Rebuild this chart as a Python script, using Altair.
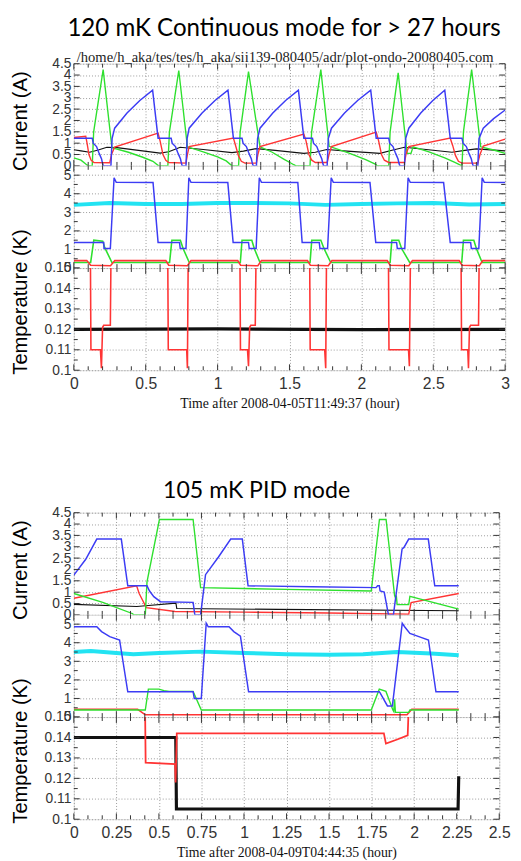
import altair as alt
import pandas as pd

TITLE1 = "120 mK Continuous mode for > 27 hours"
TITLE2 = "105 mK PID mode"
PATH1 = "/home/h_aka/tes/tes/h_aka/sii139-080405/adr/plot-ondo-20080405.com"
XTITLE1 = "Time after 2008-04-05T11:49:37 (hour)"
XTITLE2 = "Time after 2008-04-09T04:44:35 (hour)"

F1_XTICKS = [0, 0.5, 1, 1.5, 2, 2.5, 3]
F2_XTICKS = [0, 0.25, 0.5, 0.75, 1, 1.25, 1.5, 1.75, 2, 2.25, 2.5]
CUR_TICKS = [0, 0.5, 1, 1.5, 2, 2.5, 3, 3.5, 4, 4.5]
K_TICKS = [0, 1, 2, 3, 4, 5]
MK_TICKS = [0.1, 0.11, 0.12, 0.13, 0.14, 0.15]
# minor (inward) tick positions drawn along the frames
F1_XMINOR = [0.1, 0.2, 0.3, 0.4, 0.6, 0.7, 0.8, 0.9, 1.1, 1.2, 1.3, 1.4, 1.6, 1.7, 1.8, 1.9,
             2.1, 2.2, 2.3, 2.4, 2.6, 2.7, 2.8, 2.9]
F2_XMINOR = [0.083, 0.167, 0.333, 0.417, 0.583, 0.667, 0.833, 0.917, 1.083, 1.167, 1.333, 1.417,
             1.583, 1.667, 1.833, 1.917, 2.083, 2.167, 2.333, 2.417]
K_MINOR = [0.5, 1.5, 2.5, 3.5, 4.5]
MK_MINOR = [0.105, 0.115, 0.125, 0.135, 0.145]

BLUE = "#3c3cf4"
GREEN = "#2ee02e"
RED = "#ff3434"
CYAN = "#22e3f2"
BLACK = "#111111"

# ---------------- Figure 1 : current (A) ----------------
F1_CUR_BLUE = [
    (0, 1.22), (0.128, 1.22), (0.135, 1.0), (0.158, 0.85), (0.173, 0.6), (0.183, 0.45), (0.193, 0.3), (0.2, 0.1), (0.205, 0), (0.258, 0), (0.266, 1.2), (0.284, 1.66), (0.37, 2.33), (0.459, 2.88), (0.548, 3.33), (0.586, 1.22),
    (0.677, 1.22), (0.684, 1.0), (0.707, 0.85), (0.722, 0.6), (0.732, 0.45), (0.742, 0.3), (0.749, 0.1), (0.754, 0), (0.78, 0), (0.788, 1.2), (0.802, 1.66), (0.892, 2.33), (0.982, 2.88), (1.072, 3.33), (1.11, 1.22),
    (1.17, 1.22), (1.177, 1.0), (1.2, 0.85), (1.215, 0.6), (1.225, 0.45), (1.235, 0.3), (1.242, 0.1), (1.248, 0), (1.27, 0), (1.278, 1.2), (1.295, 1.66), (1.384, 2.33), (1.473, 2.88), (1.562, 3.33), (1.6, 1.22),
    (1.66, 1.22), (1.667, 1.0), (1.69, 0.85), (1.705, 0.6), (1.715, 0.45), (1.725, 0.3), (1.732, 0.1), (1.738, 0), (1.762, 0), (1.77, 1.2), (1.792, 1.66), (1.883, 2.33), (1.974, 2.88), (2.065, 3.33), (2.103, 1.22),
    (2.19, 1.22), (2.197, 1.0), (2.22, 0.85), (2.235, 0.6), (2.245, 0.45), (2.255, 0.3), (2.262, 0.1), (2.268, 0), (2.3, 0), (2.308, 1.2), (2.33, 1.66), (2.413, 2.33), (2.497, 2.88), (2.58, 3.33), (2.618, 1.22),
    (2.7, 1.22), (2.707, 1.0), (2.73, 0.85), (2.745, 0.6), (2.755, 0.45), (2.765, 0.3), (2.772, 0.1), (2.778, 0), (2.81, 0), (2.818, 1.2), (2.848, 1.66), (2.92, 2.08), (3.0, 2.46),
]
F1_CUR_GREEN = [
    (0, 0.35), (0.05, 0.25), (0.083, 0.08), (0.1, 0), (0.128, 0), (0.138, 1.5), (0.204, 4.24), (0.265, 0.8), (0.38, 0.6), (0.48, 0.38), (0.55, 0.2), (0.59, 0),
    (0.654, 0), (0.665, 1.5), (0.73, 4.2), (0.79, 0.84), (0.9, 0.62), (1.0, 0.4), (1.06, 0.22), (1.1, 0),
    (1.146, 0), (1.157, 1.5), (1.215, 4.15), (1.295, 0.84), (1.38, 0.6), (1.46, 0.3), (1.53, 0.05), (1.545, 0),
    (1.643, 0), (1.654, 1.5), (1.718, 4.24), (1.776, 0.86), (1.91, 0.57), (2.03, 0.28), (2.1, 0.07), (2.11, 0),
    (2.19, 0), (2.2, 1.5), (2.256, 4.1), (2.318, 0.55), (2.345, 0.55), (2.36, 0.84), (2.47, 0.62), (2.58, 0.35), (2.65, 0.15), (2.7, 0),
    (2.71, 1.5), (2.767, 4.24), (2.83, 0.84), (2.92, 0.7), (3.0, 0.55),
]
F1_CUR_RED = [
    (0, 1.25), (0.083, 1.3), (0.092, 1.0), (0.105, 0.5), (0.12, 0.25), (0.14, 0.15), (0.25, 0.14), (0.262, 0.5), (0.284, 0.83), (0.586, 1.44),
    (0.6, 1.1), (0.62, 0.5), (0.64, 0.25), (0.66, 0.15), (0.78, 0.12), (0.79, 0.5), (0.802, 0.85), (1.11, 1.22),
    (1.125, 0.9), (1.145, 0.45), (1.165, 0.2), (1.19, 0.12), (1.27, 0.12), (1.28, 0.5), (1.295, 0.85), (1.6, 1.4),
    (1.615, 1.1), (1.635, 0.5), (1.655, 0.25), (1.68, 0.15), (1.762, 0.15), (1.775, 0.5), (1.792, 0.85), (2.103, 1.49),
    (2.12, 1.1), (2.14, 0.5), (2.16, 0.25), (2.19, 0.15), (2.3, 0.15), (2.31, 0.5), (2.33, 0.85), (2.618, 1.22),
    (2.635, 0.9), (2.655, 0.45), (2.675, 0.2), (2.7, 0.12), (2.81, 0.12), (2.825, 0.5), (2.848, 0.87), (3.0, 1.18),
]
F1_CUR_BLACK = [
    (0, 0.71), (0.05, 0.66), (0.11, 0.6), (0.17, 0.7), (0.23, 0.82), (0.3, 0.8), (0.45, 0.68), (0.6, 0.56), (0.66, 0.62), (0.74, 0.82),
    (0.9, 0.72), (1.1, 0.58), (1.18, 0.65), (1.27, 0.76), (1.4, 0.68), (1.6, 0.55), (1.68, 0.6), (1.76, 0.72), (1.9, 0.65), (2.13, 0.55),
    (2.22, 0.7), (2.3, 0.82), (2.45, 0.72), (2.63, 0.6), (2.72, 0.68), (2.8, 0.75), (3.0, 0.66),
]

# ---------------- Figure 1 : temperature (K) ----------------
F1_K_BLUE = [
    (0, 1.38), (0.208, 1.38), (0.21, 1.05), (0.254, 1.05), (0.28, 4.86), (0.295, 4.62), (0.551, 4.6), (0.586, 1.38),
    (0.735, 1.38), (0.74, 1.05), (0.78, 1.05), (0.8, 4.86), (0.815, 4.62), (1.071, 4.6), (1.108, 1.38),
    (1.215, 1.38), (1.22, 1.05), (1.268, 1.05), (1.29, 4.86), (1.305, 4.62), (1.558, 4.6), (1.588, 1.38),
    (1.707, 1.38), (1.712, 1.05), (1.765, 1.05), (1.79, 4.86), (1.805, 4.62), (2.06, 4.6), (2.1, 1.38),
    (2.245, 1.38), (2.25, 1.05), (2.302, 1.05), (2.325, 4.86), (2.34, 4.62), (2.572, 4.6), (2.618, 1.38),
    (2.76, 1.38), (2.765, 1.05), (2.817, 1.05), (2.84, 4.86), (2.855, 4.62), (3.0, 4.6),
]
F1_K_GREEN = [
    (0, 0.3), (0.117, 0.3), (0.139, 1.5), (0.201, 1.45), (0.215, 1.1), (0.265, 0.3),
    (0.666, 0.3), (0.682, 1.5), (0.741, 1.5), (0.76, 1.05), (0.803, 0.3),
    (1.158, 0.3), (1.17, 1.5), (1.238, 1.5), (1.255, 1.05), (1.295, 0.3),
    (1.643, 0.3), (1.655, 1.5), (1.718, 1.5), (1.74, 1.05), (1.787, 0.3),
    (2.2, 0.3), (2.212, 1.5), (2.26, 1.5), (2.28, 1.05), (2.336, 0.3),
    (2.698, 0.3), (2.71, 1.5), (2.782, 1.5), (2.8, 1.05), (2.84, 0.3), (3.0, 0.3),
]
F1_K_RED = [
    (0, 0.4), (0.09, 0.4), (0.117, 0.15), (0.255, 0.12), (0.285, 0.4), (0.64, 0.4), (0.66, 0.15), (0.79, 0.12), (0.815, 0.4),
    (1.14, 0.4), (1.16, 0.15), (1.28, 0.12), (1.305, 0.4), (1.625, 0.4), (1.645, 0.15), (1.77, 0.12), (1.795, 0.4),
    (2.18, 0.4), (2.2, 0.15), (2.33, 0.12), (2.355, 0.4), (2.68, 0.4), (2.7, 0.15), (2.82, 0.12), (2.845, 0.4), (3.0, 0.4),
]
F1_K_CYAN = [
    (0, 3.4), (0.25, 3.5), (0.5, 3.45), (0.75, 3.45), (1.0, 3.5), (1.25, 3.5), (1.5, 3.48), (1.75, 3.4),
    (2.0, 3.45), (2.25, 3.48), (2.5, 3.5), (2.75, 3.42), (3.0, 3.45),
]

# ---------------- Figure 1 : temperature (0.1-0.15 K) ----------------
F1_T_BLACK = [(0, 0.12), (1.0, 0.1202), (2.0, 0.1199), (3.0, 0.12)]
F1_T_RED = [
    (0, 0.16), (0.115, 0.16), (0.119, 0.11), (0.185, 0.11), (0.192, 0.101), (0.2, 0.121), (0.208, 0.122), (0.254, 0.122), (0.259, 0.16),
    (0.653, 0.16), (0.657, 0.11), (0.785, 0.11), (0.79, 0.101), (0.796, 0.16),
    (1.155, 0.16), (1.159, 0.11), (1.208, 0.11), (1.215, 0.102), (1.223, 0.121), (1.231, 0.122), (1.262, 0.122), (1.268, 0.16),
    (1.64, 0.16), (1.644, 0.11), (1.745, 0.11), (1.752, 0.101), (1.758, 0.16),
    (2.188, 0.16), (2.192, 0.11), (2.328, 0.11), (2.334, 0.102), (2.342, 0.16),
    (2.693, 0.16), (2.697, 0.11), (2.74, 0.11), (2.745, 0.101), (2.752, 0.121), (2.76, 0.122), (2.815, 0.122), (2.82, 0.16), (3.0, 0.16),
]

# ---------------- Figure 2 : current (A) ----------------
F2_CUR_BLUE = [
    (0, 1.75), (0.07, 2.45), (0.135, 3.34), (0.279, 3.34), (0.317, 1.28), (0.43, 1.28), (0.445, 1.05), (0.47, 0.8), (0.509, 0.58),
    (0.701, 0.55), (0.711, 0), (0.745, 0), (0.774, 1.77), (0.85, 2.55), (0.922, 3.34), (0.99, 3.34), (1.024, 1.28),
    (1.4, 1.24), (1.776, 1.2), (1.785, 1.28), (1.795, 1.28), (1.8, 1.05), (1.824, 1.0), (1.849, 0), (1.878, 0),
    (1.929, 2.9), (1.94, 2.97), (1.968, 3.34), (2.083, 3.34), (2.121, 1.28), (2.262, 1.28),
]
F2_CUR_GREEN = [
    (0, 0.94), (0.17, 0.55), (0.346, 0.05), (0.35, 0), (0.42, 0), (0.43, 1.45), (0.503, 4.2), (0.701, 4.2), (0.745, 1.2),
    (1.25, 1.12), (1.748, 1.05), (1.796, 4.2), (1.835, 4.2), (1.885, 0.85), (1.89, 0.75), (1.895, 0.85), (1.9, 0.45),
    (1.968, 0.45), (1.975, 0.82), (2.262, 0.25),
]
F2_CUR_RED = [
    (0, 0.73), (0.369, 1.28), (0.384, 0.94), (0.426, 0.32), (0.595, 0.15), (1.0, 0.12), (1.5, 0.08), (1.968, 0.03),
    (1.982, 0.54), (2.262, 0.94),
]
F2_CUR_BLACK = [(0, 0.46), (0.37, 0.37), (0.6, 0.52), (0.605, 0.28), (1.2, 0.24), (2.262, 0.18)]

# ---------------- Figure 2 : temperature (K) ----------------
F2_K_BLUE = [
    (0, 4.86), (0.135, 4.86), (0.163, 4.6), (0.211, 4.33), (0.269, 4.15), (0.317, 1.36), (0.701, 1.36), (0.708, 1.0), (0.749, 1.0),
    (0.778, 5.05), (0.79, 4.86), (0.912, 4.86), (0.94, 4.6), (0.979, 4.35), (1.027, 1.36), (1.795, 1.36), (1.8, 1.3),
    (1.843, 0.6), (1.872, 0.6), (1.93, 5.05), (1.945, 4.85), (1.975, 4.5), (2.036, 4.3), (2.084, 4.15), (2.128, 1.36), (2.262, 1.36),
]
F2_K_GREEN = [
    (0, 0.38), (0.42, 0.38), (0.438, 1.5), (0.5, 1.5), (0.53, 1.42), (0.56, 1.38), (0.701, 1.38), (0.749, 0.38),
    (1.748, 0.38), (1.795, 1.5), (1.834, 1.38), (1.875, 0.38), (1.88, 0.3), (1.885, 0.95), (1.89, 0.25), (1.968, 0.25),
    (1.975, 0.38), (2.262, 0.38),
]
F2_K_RED = [(0, 0.42), (0.375, 0.42), (0.42, 0.12), (1.958, 0.12), (1.986, 0.42), (2.262, 0.42)]
F2_K_CYAN = [
    (0, 3.5), (0.1, 3.55), (0.25, 3.45), (0.35, 3.38), (0.5, 3.45), (0.75, 3.52), (1.0, 3.45), (1.25, 3.38),
    (1.5, 3.35), (1.7, 3.38), (1.9, 3.5), (2.1, 3.42), (2.262, 3.33),
]

# ---------------- Figure 2 : temperature (0.1-0.15 K) ----------------
F2_T_BLACK = [(0, 0.14), (0.599, 0.14), (0.603, 0.105), (2.258, 0.105), (2.262, 0.121)]
F2_T_RED = [
    (0, 0.16), (0.418, 0.16), (0.422, 0.1277), (0.595, 0.127), (0.598, 0.118), (0.605, 0.142), (1.822, 0.142),
    (1.834, 0.137), (1.9, 0.139), (1.962, 0.141), (1.97, 0.16), (2.262, 0.16),
]

GRID = dict(grid=True, gridColor="#9a9a9a", gridDash=[1, 2], gridWidth=1)
ONE = pd.DataFrame({"k": [0]})
TICK_COLOR = "#333333"


def x_axis(vals, bottom, title):
    if bottom:
        return alt.Axis(values=vals, format=".3~f", labelFlush=False, labelOverlap=False,
                        labelFont="Liberation Sans", labelFontSize=16, labelColor="#333",
                        labelPadding=6, ticks=False, domain=False, title=title,
                        titleFont="Liberation Serif", titleFontSize=14, titleFontWeight="normal",
                        titleColor="#111", titlePadding=5, **GRID)
    return alt.Axis(values=vals, labels=False, ticks=False, domain=False, title=None, **GRID)


def y_axis(vals, title, tx, ty):
    kw = dict(values=vals, format=".3~f", labelOverlap=False, labelFont="Liberation Sans",
              labelFontSize=14, labelColor="#333", labelPadding=3, ticks=False, domain=False, **GRID)
    if title:
        kw.update(title=title, titleFont="Liberation Sans", titleFontSize=20.5, titleFontWeight="normal",
                  titleColor="#000", titleX=tx, titleY=ty, titleAngle=270, titleAlign="center",
                  titleBaseline="alphabetic")
    else:
        kw["title"] = None
    return alt.Axis(**kw)


def txt(s, x, y, font, size, align="center", color="#000"):
    return alt.Chart(ONE).mark_text(text=s, font=font, fontSize=size, align=align,
                                    baseline="alphabetic", color=color).encode(
        x=alt.value(x), y=alt.value(y))


def panel(series, xdom, xvals, xminor, ydom, yvals, yminor, w, h, bottom=False, xtitle=None,
          ytitle=None, tx=-48, ty=0, extras=()):
    xa = x_axis(xvals, bottom, xtitle)
    ya = y_axis(yvals, ytitle, tx, ty)
    xs = alt.Scale(domain=xdom, nice=False, zero=False)
    ys = alt.Scale(domain=ydom, nice=False, zero=False)
    layers = []
    for pts, color, sw in series:
        df = pd.DataFrame({"t": [p[0] for p in pts], "v": [p[1] for p in pts],
                           "i": list(range(len(pts)))})
        layers.append(alt.Chart(df).mark_line(color=color, strokeWidth=sw, clip=True).encode(
            x=alt.X("t:Q", scale=xs, axis=xa),
            y=alt.Y("v:Q", scale=ys, axis=ya),
            order=alt.Order("i:Q")))
    # inward tick marks along the frame (top/bottom for x, left/right for y)
    xt_major = pd.DataFrame({"t": xvals})
    xt_minor = pd.DataFrame({"t": xminor})
    yt_major = pd.DataFrame({"v": yvals})
    yt_minor = pd.DataFrame({"v": yminor})
    for d, ln in ((xt_major, 6), (xt_minor, 4)):
        for y0, y1 in ((0, ln), (h - ln, h)):
            layers.append(alt.Chart(d).mark_rule(color=TICK_COLOR, strokeWidth=1).encode(
                x=alt.X("t:Q", scale=xs, axis=xa), y=alt.value(y0), y2=alt.value(y1)))
    for d, ln in ((yt_major, 6), (yt_minor, 4)):
        for x0, x1 in ((0, ln), (w - ln, w)):
            layers.append(alt.Chart(d).mark_rule(color=TICK_COLOR, strokeWidth=1).encode(
                y=alt.Y("v:Q", scale=ys, axis=ya), x=alt.value(x0), x2=alt.value(x1)))
    layers += list(extras)
    return alt.layer(*layers).properties(width=w, height=h)


W1, W2, H = 439, 433, 104

f1p1 = panel([(F1_CUR_BLACK, BLACK, 1.2), (F1_CUR_GREEN, GREEN, 1.4), (F1_CUR_RED, RED, 1.4), (F1_CUR_BLUE, BLUE, 1.5)],
             [0, 3], F1_XTICKS, F1_XMINOR, [0, 4.5], CUR_TICKS, [], W1, H, ytitle="Current (A)", ty=58,
             extras=[txt(TITLE1, 214, -28, "Lato", 24.5),
                     txt(PATH1, 3, -2, "Liberation Serif", 14.8, "left", "#222")])
f1p2 = panel([(F1_K_CYAN, CYAN, 4), (F1_K_GREEN, GREEN, 1.6), (F1_K_RED, RED, 1.6), (F1_K_BLUE, BLUE, 1.5)],
             [0, 3], F1_XTICKS, F1_XMINOR, [0, 5.5], K_TICKS, K_MINOR, W1, H,
             ytitle="Temperature (K)", ty=138)
f1p3 = panel([(F1_T_BLACK, BLACK, 3.2), (F1_T_RED, RED, 1.6)],
             [0, 3], F1_XTICKS, F1_XMINOR, [0.1, 0.15], MK_TICKS, MK_MINOR, W1, H,
             bottom=True, xtitle=XTITLE1)
fig1 = alt.vconcat(f1p1, f1p2, f1p3, spacing=0, bounds="flush")

f2p1 = panel([(F2_CUR_BLACK, BLACK, 1.2), (F2_CUR_RED, RED, 1.4), (F2_CUR_GREEN, GREEN, 1.4), (F2_CUR_BLUE, BLUE, 1.5)],
             [0, 2.5], F2_XTICKS, F2_XMINOR, [0, 4.5], CUR_TICKS, [], W2, H, ytitle="Current (A)", ty=58,
             extras=[txt(TITLE2, 186, -15, "Lato", 23.5)])
f2p2 = panel([(F2_K_CYAN, CYAN, 4), (F2_K_RED, RED, 1.6), (F2_K_GREEN, GREEN, 1.4), (F2_K_BLUE, BLUE, 1.5)],
             [0, 2.5], F2_XTICKS, F2_XMINOR, [0, 5.5], K_TICKS, K_MINOR, W2, H,
             ytitle="Temperature (K)", ty=138)
f2p3 = panel([(F2_T_BLACK, BLACK, 3.2), (F2_T_RED, RED, 1.8)],
             [0, 2.5], F2_XTICKS, F2_XMINOR, [0.1, 0.15], MK_TICKS, MK_MINOR, W2, H,
             bottom=True, xtitle=XTITLE2)
fig2 = alt.vconcat(f2p1, f2p2, f2p3, spacing=0, bounds="flush")

chart = alt.vconcat(fig1, fig2, spacing=68).properties(
    padding={"left": 2, "top": 0, "right": 2, "bottom": 2}
).configure_view(stroke="black", strokeWidth=1.2).configure(background="white")

chart.save("out.html", embed_options={"renderer": "svg", "actions": False})
